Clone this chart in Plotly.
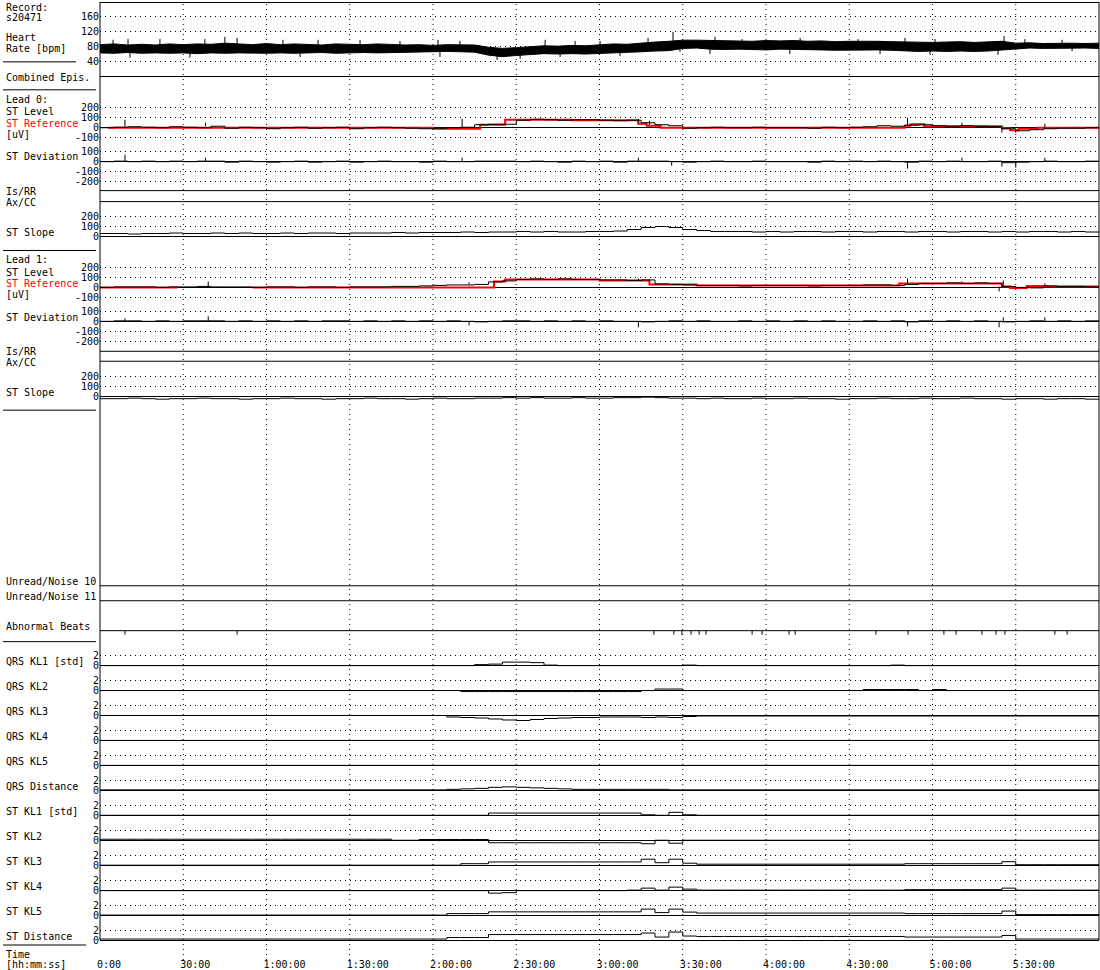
import plotly.graph_objects as go

# ------------------------------------------------------------------ data
time_min = [5 * k for k in range(73)]          # 0 .. 360 minutes, 5-min grid
tick_min = [0, 30, 60, 90, 120, 150, 180, 210, 240, 270, 300, 330]
tick_text = ["0:00", "30:00", "1:00:00", "1:30:00", "2:00:00", "2:30:00",
             "3:00:00", "3:30:00", "4:00:00", "4:30:00", "5:00:00", "5:30:00"]

hr_hi = [86, 88, 85, 87, 85, 88, 86, 88, 87, 90, 88, 86, 89, 86, 88,
         87, 85, 88, 87, 86, 88, 86, 85, 86, 84, 86, 85, 85, 79, 76,
         78, 80, 83, 82, 84, 83, 85, 88, 87, 91, 93, 95, 98, 98, 97,
         96, 97, 95, 97, 96, 97, 95, 96, 94, 95, 96, 95, 94, 93, 94,
         92, 93, 94, 92, 93, 95, 90, 91, 89, 90, 90, 89, 90]
hr_lo = [64, 63, 65, 63, 64, 63, 64, 62, 64, 63, 64, 63, 63, 64, 63,
         64, 65, 63, 64, 65, 64, 65, 67, 68, 67, 68, 67, 66, 58, 54,
         57, 59, 62, 61, 62, 61, 62, 63, 64, 67, 69, 70, 76, 77, 74,
         73, 74, 73, 72, 74, 73, 71, 72, 71, 72, 71, 72, 71, 69, 68,
         69, 68, 69, 68, 69, 72, 76, 77, 76, 77, 76, 77, 76]
hr_spike_t = [4.7, 10.1, 21.6, 37.8, 45.0, 49.4, 65.9, 78.6, 93.7, 108.1, 121.8, 129.7,
              160.4, 171.2, 180.2, 197.5, 206.5, 221.6, 231.4, 252.3, 273.2, 290.1, 300.9,
              325.8, 333.3, 346.7,
              10.8, 32.4, 72.1, 122.5, 143.1, 151.4, 165.8, 187.4, 209.0, 219.8, 248.6,
              281.1, 299.1, 323.6, 350.3]
hr_spike_v = [99, 101, 101, 101, 107, 104, 99, 99, 99, 96, 99, 96,
              99, 96, 96, 104, 120, 107, 101, 104, 101, 104, 101,
              109, 101, 99,
              51, 51, 53, 53, 45, 48, 53, 56, 67, 61, 61,
              61, 59, 59, 69]

l0_level = [0, 5, 10, 5, 0, 10, 5, 0, 15, -5,
            5, 0, -10, 0, 5, -5, 0, 5, -10, 0,
            5, 0, -5, -10, -5, 0, 5, 30, 35, 35,
            75, 85, 80, 75, 80, 80, 75, 70, 75, 50,
            30, 20, -5, 0, 5, 0, 0, 5, 0, 0,
            0, -5, 5, 0, 5, 10, 20, 15, 25, 30,
            20, 15, 20, 15, 10, -10, -30, -20, -10, -5,
            -5, 0, 0]
l0_level_spike_t = [9, 38, 130.5, 194, 198, 291, 310.6, 325, 330, 340.5]
l0_level_spike_v = [80, 50, 90, 90, 70, 100, 50, -50, -50, 40]
l0_ref_t = [3, 110, 120, 137, 144, 146, 170, 194, 197, 202, 290, 292, 297, 320, 325, 328, 331, 338, 360]
l0_ref_v = [0, 0, -10, 30, 30, 80, 75, 40, 20, 0, 20, 35, 15, 15, -5, -25, -10, 0, 0]
l0_dev = [0, 5, 0, 5, 0, 5, 0, 5, 5, -5,
          5, 0, -5, 0, 5, -5, 0, 5, -5, 0,
          5, 0, 0, -5, 5, 0, 0, 5, 5, 5,
          0, 5, 0, -5, 5, 0, 5, -5, 5, 5,
          5, 0, -5, 0, 5, 0, 0, 5, 0, 0,
          0, -5, 5, 0, 5, 0, 5, 0, -5, 5,
          0, 5, 0, 0, 5, -10, -5, 0, 5, 0,
          0, 5, 0]
l0_dev_spike_t = [9, 38, 130.5, 194, 206, 291, 310.6, 325, 330, 340.5]
l0_dev_spike_v = [70, 40, 40, 40, -40, -70, 40, -50, -60, 40]
l0_slope = [30, 30, 25, 30, 30, 35, 30, 30, 35, 30,
            35, 30, 30, 35, 30, 35, 35, 30, 35, 35,
            35, 40, 35, 40, 40, 40, 45, 40, 45, 45,
            50, 45, 50, 45, 45, 50, 50, 55, 70, 90,
            100, 90, 70, 60, 50, 50, 50, 45, 50, 45,
            50, 50, 45, 50, 50, 45, 50, 50, 45, 50,
            50, 45, 50, 50, 45, 50, 45, 50, 50, 45,
            50, 45, 50]

l1_level = [0, 5, 5, 5, 0, 5, 5, 10, 5, 5,
            5, 0, 5, 5, 0, 5, 5, 0, 5, 5,
            5, 10, 10, 15, 20, 25, 25, 30, 55, 65,
            80, 85, 80, 85, 80, 80, 75, 75, 70, 75,
            35, 30, 25, 20, 20, 20, 15, 20, 20, 20,
            20, 15, 20, 20, 20, 25, 25, 20, 30, 40,
            40, 45, 40, 45, 40, 10, 0, -5, 15, 10,
            10, 5, 5]
l1_level_spike_t = [39, 133, 194, 291, 310.6, 324, 325.5, 340.5]
l1_level_spike_v = [60, 50, 90, 90, 60, -40, 70, 40]
l1_ref_t = [0, 28, 28, 55, 137, 142, 146, 180, 198, 215, 288, 320, 325, 328, 334, 341, 360]
l1_ref_v = [0, 0, None, 0, 0, 60, 80, 70, 30, 20, 40, 40, 10, -5, 15, 10, 10]
l1_dev = [0, 5, 5, 0, 5, 0, 5, 5, 5, 0,
          5, 0, 5, 0, 5, 0, 5, 5, 0, 5,
          0, 5, 0, 5, 0, 5, 0, -5, 0, 5,
          5, 0, 5, 0, 5, 0, 5, 0, 0, -5,
          0, 5, 0, 5, 0, 0, 5, 0, 5, 0,
          5, 0, 5, 0, 0, 5, 0, 5, -5, 5,
          0, 5, 0, 5, 0, -5, 0, 5, 0, 5,
          0, 5, 0]
l1_dev_spike_t = [9, 39, 133, 194, 291, 324, 325.5, 340.5]
l1_dev_spike_v = [30, 50, -40, -60, -50, -60, 40, 40]
l1_slope = [-25, -25, -20, -25, -30, -25, -25, -20, -25, -25,
            -30, -25, -25, -20, -25, -25, -30, -25, -25, -20,
            -25, -25, -30, -25, -20, -25, -25, -20, -20, -15,
            -20, -15, -20, -20, -15, -20, -20, -15, -15, -10,
            -15, -20, -20, -25, -20, -25, -25, -20, -25, -25,
            -20, -25, -25, -30, -25, -25, -20, -25, -25, -20,
            -25, -25, -20, -25, -25, -30, -25, -25, -30, -25,
            -25, -30, -25]

abnormal_beat_min = [9.0, 49.4, 199.6, 206.8, 209.7, 213.0, 215.9, 218.4, 235.0, 238.6,
                     248.3, 250.5, 279.6, 291.2, 304.1, 308.5, 317.8, 322.9, 326.1, 344.1, 348.5]

qrs_kl1 = [0] * 27 + [0.2, 0.3, 0.7, 0.7, 0.6, 0.1] + [0] * 9 + [0.1] + [0] * 14 + [0.1] + [0] * 15
qrs_kl2 = [0] * 26 + [-0.2] * 13 + [0, 0.3, 0.3] + [0] * 13 + [0.2, 0.2, 0.2, 0.2, 0, 0.2] + [0] * 12
qrs_kl3 = [0] * 25 + [-0.3, -0.4, -0.5, -0.7, -0.9, -1.0, -0.8, -0.6, -0.5, -0.4, -0.4, -0.3,
                      -0.3, -0.3, -0.4, -0.3, -0.4, -0.2] + [-0.1] * 30
qrs_kl4 = [0] * 73
qrs_kl5 = [0] * 73
qrs_dist = [0.1] * 25 + [0.2, 0.3, 0.4, 0.6, 0.7, 0.6, 0.5, 0.4, 0.3, 0.2,
                         0.2, 0.2, 0.2, 0.2, 0.2, 0.2] + [0.1] * 32
st_kl1 = [0] * 28 + [0.45] * 11 + [0.1, 0, 0.6, 0.1] + [0] * 30
st_kl2 = [0.2] * 21 + [0, 0] + [0.15] * 5 + [-0.5] * 11 + [-0.7, 0, -0.6] + [0] * 31
st_kl3 = [0] * 26 + [0.3, 0.3] + [0.65] * 11 + [1.2, 0.5, 1.2, 0.4] + [0.2] * 15 + [0.3] * 7 + [0.7] + [0.1] * 7
st_kl4 = [-0.1] * 28 + [-0.6, -0.5] + [-0.1] * 8 + [0, 0.4, 0, 0.6, 0.2] + [0] * 15 + [0.1] * 7 + [0.4] + [0] * 7
st_kl5 = [0] * 25 + [0.3, 0.3, 0.3] + [0.65] * 11 + [1.2, 0.5, 1.2, 0.6] + [0.4] * 15 + [0.3] * 7 + [0.8] + [0.1] * 7
st_dist = [0.2] * 25 + [0.5, 0.5, 0.5] + [1.1] * 11 + [1.4, 0.6, 1.6, 0.8] + [0.7] * 15 + [0.6] * 7 + [0.9] + [0.2] * 7

kl_names = ["QRS KL1 [std]", "QRS KL2", "QRS KL3", "QRS KL4", "QRS KL5", "QRS Distance",
            "ST KL1 [std]", "ST KL2", "ST KL3", "ST KL4", "ST KL5", "ST Distance"]
kl_series = [qrs_kl1, qrs_kl2, qrs_kl3, qrs_kl4, qrs_kl5, qrs_dist,
             st_kl1, st_kl2, st_kl3, st_kl4, st_kl5, st_dist]

# ------------------------------------------------------------------ layout helpers
W, H = 1100, 970
ML, MR, MT, MB = 100, 1, 0, 13
PW, PH = W - ML - MR, H - MT - MB
FONT = "DejaVu Sans Mono"
FS = 10


def py2p(py):
    return 1 - (py - MT) / PH


def px2p(px):
    return (px - ML) / PW


fig = go.Figure()
layout_axes = {}
axis_count = [0]
DOT = "1px,4px"


def new_axis(zero_px, ppu, top_px, bottom_px, tickvals=None, ticktext=None, grid=True, zeroline=True):
    axis_count[0] += 1
    n = axis_count[0]
    key = "yaxis" if n == 1 else "yaxis%d" % n
    ref = "y" if n == 1 else "y%d" % n
    d = dict(domain=[py2p(bottom_px), py2p(top_px)],
             range=[(zero_px - bottom_px) / ppu, (zero_px - top_px) / ppu],
             anchor="x", showline=False, ticks="", ticklen=0, fixedrange=True,
             showgrid=grid, gridcolor="black", gridwidth=1, griddash=DOT,
             zeroline=zeroline, zerolinecolor="black", zerolinewidth=1,
             tickfont=dict(family=FONT, size=FS, color="black"))
    if tickvals is not None:
        d.update(tickmode="array", tickvals=tickvals, ticktext=ticktext, showticklabels=True)
    else:
        d.update(showticklabels=False)
    layout_axes[key] = d
    return ref


def line(x, y, ref, color="black", width=1, shape="linear"):
    fig.add_trace(go.Scatter(x=x, y=y, xaxis="x", yaxis=ref, mode="lines",
                             line=dict(color=color, width=width, shape=shape),
                             hoverinfo="skip", showlegend=False, connectgaps=False))


def spikes(base, st, sv, ref):
    """vertical strokes from the local trace level to each spike value"""
    xs, ys = [], []
    for t, v in zip(st, sv):
        b = base[min(int(round(t / 5)), len(base) - 1)]
        xs += [t, t, None]
        ys += [b, v, None]
    line(xs, ys, ref)


st_ticks_lvl = ([200, 100, 0, -100], ["200", "100", "0", "-100"])
st_ticks_dev = ([100, 0, -100, -200], ["100", "0", "-100", "-200"])
st_ticks_slp = ([200, 100, 0], ["200", "100", "0"])

# heart rate
y_hr = new_axis(75, 0.375, 0, 76, [40, 80, 120, 160], ["40", "80", "120", "160"])
fig.add_trace(go.Scatter(x=time_min, y=hr_hi, xaxis="x", yaxis=y_hr, mode="lines",
                         line=dict(color="black", width=1), hoverinfo="skip", showlegend=False))
fig.add_trace(go.Scatter(x=time_min, y=hr_lo, xaxis="x", yaxis=y_hr, mode="lines", fill="tonexty",
                         fillcolor="black", line=dict(color="black", width=1),
                         hoverinfo="skip", showlegend=False))
hr_mid = [(a + b) / 2 for a, b in zip(hr_hi, hr_lo)]
spikes(hr_mid, hr_spike_t, hr_spike_v, y_hr)

# lead 0
y = new_axis(126, 0.1, 101, 143, *st_ticks_lvl)
line(l0_ref_t, l0_ref_v, y, color="#ff0000", width=2, shape="hv")
line(time_min, l0_level, y, shape="hv")
spikes(l0_level, l0_level_spike_t, l0_level_spike_v, y)
y = new_axis(160, 0.1, 145, 186, *st_ticks_dev)
line(time_min, l0_dev, y, shape="hv")
spikes(l0_dev, l0_dev_spike_t, l0_dev_spike_v, y)
y = new_axis(235, 0.1, 203, 247, *st_ticks_slp)
line(time_min, l0_slope, y, shape="hv")

# lead 1
y = new_axis(286, 0.1, 262, 303, *st_ticks_lvl)
line(l1_ref_t, l1_ref_v, y, color="#ff0000", width=2, shape="hv")
line(time_min, l1_level, y, shape="hv")
spikes(l1_level, l1_level_spike_t, l1_level_spike_v, y)
y = new_axis(320, 0.1, 305, 347, *st_ticks_dev)
line(time_min, l1_dev, y, shape="hv")
spikes(l1_dev, l1_dev_spike_t, l1_dev_spike_v, y)
y = new_axis(395, 0.1, 363, 405, *st_ticks_slp)
line(time_min, l1_slope, y, shape="hv")

# abnormal beats (short ticks hanging below the line)
y_ab = new_axis(635, 5.0, 630, 635, None, None, grid=False, zeroline=False)
ab_x, ab_y = [], []
for t in abnormal_beat_min:
    ab_x += [t, t, None]
    ab_y += [1.0, 0.2, None]
line(ab_x, ab_y, y_ab)

# KL panels
kl_zero = []
for i, ser in enumerate(kl_series):
    z = 665 + 25 * i
    kl_zero.append(z)
    y = new_axis(z, 5.0, z - 14, z + 6, [0, 2], ["0", "2"])
    line(time_min, ser, y, shape="hv")

# ------------------------------------------------------------------ decorations
shapes = []
for t in tick_min[1:]:
    shapes.append(dict(type="line", xref="x", yref="paper", x0=t, x1=t, y0=py2p(960), y1=1,
                       line=dict(color="black", width=1, dash=DOT), layer="below"))
for xp in (0, 1):
    shapes.append(dict(type="line", xref="paper", yref="paper", x0=xp, x1=xp, y0=py2p(940), y1=1,
                       line=dict(color="black", width=1)))
for py in (0.5, 189, 200, 350, 360, 585, 600, 630):
    shapes.append(dict(type="line", xref="paper", yref="paper", x0=0, x1=1, y0=py2p(py), y1=py2p(py),
                       line=dict(color="black", width=1)))
for py, x1 in ((60, 76), (88, 96), (249, 96), (409, 96), (641, 96), (945, 86)):
    shapes.append(dict(type="line", xref="paper", yref="paper", x0=px2p(3), x1=px2p(x1),
                       y0=py2p(py), y1=py2p(py), line=dict(color="black", width=1)))

labels = [("Record:", 6), ("s20471", 16), ("Heart", 36), ("Rate [bpm]", 47),
          ("Combined Epis.", 76),
          ("Lead 0:", 98), ("ST Level", 110), ("ST Reference", 122), ("[uV]", 133),
          ("ST Deviation", 155), ("Is/RR", 190), ("Ax/CC", 201), ("ST Slope", 231),
          ("Lead 1:", 258), ("ST Level", 271), ("ST Reference", 282), ("[uV]", 293),
          ("ST Deviation", 316), ("Is/RR", 350), ("Ax/CC", 361), ("ST Slope", 391),
          ("Unread/Noise 10", 581), ("Unread/Noise 11", 596), ("Abnormal Beats", 626)]
labels += [(nm, z - 4) for nm, z in zip(kl_names, kl_zero)]
labels += [("Time", 954), ("[hh:mm:ss]", 965)]

annotations = []
for txt, py in labels:
    annotations.append(dict(text=txt, xref="paper", yref="paper", x=px2p(4), y=py2p(py),
                            xanchor="left", yanchor="middle", showarrow=False,
                            font=dict(family=FONT, size=FS,
                                      color="#ff0000" if txt == "ST Reference" else "black")))

fig.update_layout(
    width=W, height=H, margin=dict(l=ML, r=MR, t=MT, b=MB, pad=0),
    paper_bgcolor="white", plot_bgcolor="white", showlegend=False,
    xaxis=dict(range=[0, 360], anchor="free", position=0, tickmode="array",
               tickvals=tick_min, ticktext=tick_text, showgrid=False, zeroline=False,
               showline=False, ticks="", fixedrange=True, ticklabelposition="outside right",
               ticklabelshift=-3,
               tickfont=dict(family=FONT, size=FS, color="black")),
    shapes=shapes, annotations=annotations,
    **layout_axes,
)

fig.write_html("out.html", config={"displayModeBar": False, "staticPlot": True},
               post_script="document.body.style.margin='0';")
